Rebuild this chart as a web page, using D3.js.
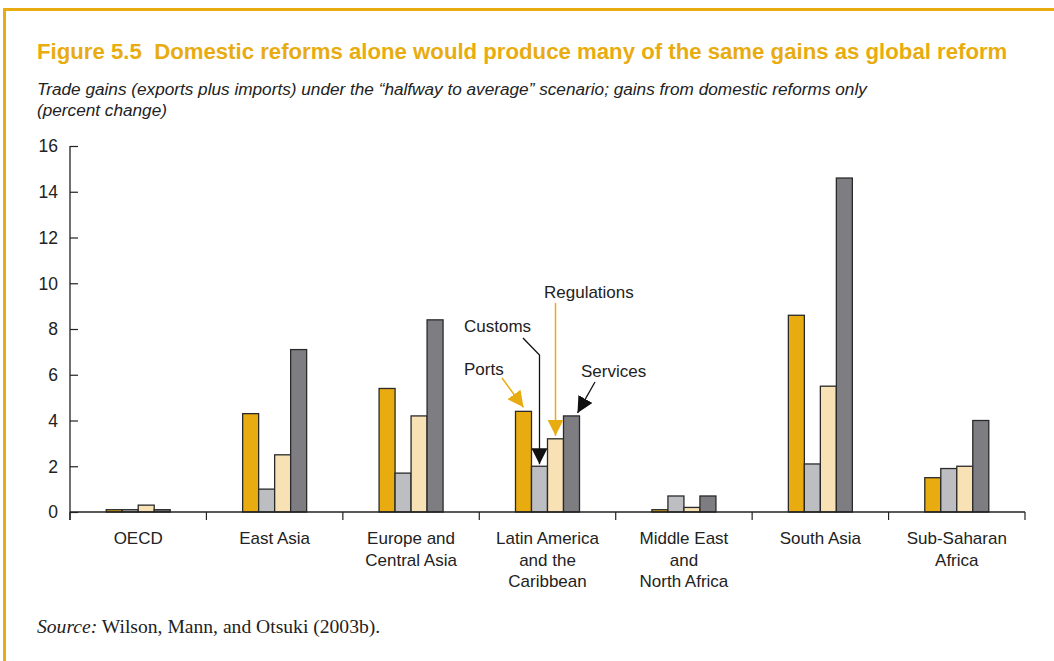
<!DOCTYPE html>
<html><head><meta charset="utf-8">
<script src="https://cdn.jsdelivr.net/npm/d3@7"></script>
<style>
body{margin:0;background:#fff;}
svg{display:block;}
</style></head>
<body>
<svg id="chart" width="1054" height="661"></svg>
<script>
const categories = ["OECD","East Asia","Europe and Central Asia","Latin America and the Caribbean","Middle East and North Africa","South Asia","Sub-Saharan Africa"];
const categoryLines = [["OECD"],["East Asia"],["Europe and","Central Asia"],["Latin America","and the","Caribbean"],["Middle East","and","North Africa"],["South Asia"],["Sub-Saharan","Africa"]];
const seriesNames = ["Ports","Customs","Regulations","Services"];
const ports       = [0.1, 4.3, 5.4, 4.4, 0.1, 8.6, 1.5];
const customs     = [0.1, 1.0, 1.7, 2.0, 0.7, 2.1, 1.9];
const regulations = [0.3, 2.5, 4.2, 3.2, 0.2, 5.5, 2.0];
const services    = [0.1, 7.1, 8.4, 4.2, 0.7, 14.6, 4.0];
const yTicks = [0,2,4,6,8,10,12,14,16];
const colors = ["#E8AC10","#BDBEC1","#F8E1B4","#7E7E82"];

const svg = d3.select("#chart");
const orange = "#E8AC10";
const sans = "Liberation Sans, Arial, sans-serif";

// frame
svg.append("rect").attr("x",3).attr("y",8).attr("width",1051).attr("height",3).attr("fill",orange);
svg.append("rect").attr("x",3).attr("y",8).attr("width",3).attr("height",653).attr("fill",orange);

// title
svg.append("text").attr("x",37).attr("y",59)
  .attr("font-family",sans).attr("font-weight","bold")
  .attr("font-size",22.2).attr("fill",orange)
  .attr("xml:space","preserve")
  .text("Figure 5.5  Domestic reforms alone would produce many of the same gains as global reform");
const sub = svg.append("g").attr("font-family",sans).attr("font-style","italic").attr("font-size",17.2).attr("fill","#222");
sub.append("text").attr("x",37).attr("y",95).text("Trade gains (exports plus imports) under the \u201chalfway to average\u201d scenario; gains from domestic reforms only");
sub.append("text").attr("x",37).attr("y",116).text("(percent change)");

// scales
const x0 = 70, x1 = 1025, yTop = 146, yBot = 512;
const x = d3.scaleBand().domain(categories).range([x0,x1]).padding(0);
const y = d3.scaleLinear().domain([0,16]).range([yBot,yTop]);
const groupW = 64;
const xi = d3.scaleBand().domain(seriesNames).range([0,groupW]);

// bars
const seriesVals = [ports,customs,regulations,services];
const gBars = svg.append("g");
categories.forEach((c,ci)=>{
  seriesNames.forEach((s,si)=>{
    const v = seriesVals[si][ci];
    gBars.append("rect")
      .attr("x", x(c) + (x.bandwidth()-groupW)/2 + xi(s))
      .attr("y", y(v))
      .attr("width", xi.bandwidth())
      .attr("height", y(0)-y(v))
      .attr("fill", colors[si])
      .attr("stroke","#2a2a2a").attr("stroke-width",1.3);
  });
});

// y axis
const yAxis = d3.axisRight(y).tickValues(yTicks).tickSize(8).tickFormat(d3.format("d"));
const gy = svg.append("g").attr("transform",`translate(${x0},0)`).call(yAxis);
gy.select(".domain").remove();
gy.append("line").attr("x1",0).attr("x2",0).attr("y1",yTop).attr("y2",yBot+8).attr("stroke","#222").attr("stroke-width",1.3);
gy.selectAll(".tick line").attr("stroke","#222").attr("stroke-width",1.2);
gy.selectAll(".tick text").attr("x",-12).attr("dy","0.34em").attr("text-anchor","end")
  .attr("font-family",sans).attr("font-size",17.5).attr("fill","#222");

// x axis
const gx = svg.append("g").attr("transform",`translate(0,${yBot})`);
gx.append("line").attr("x1",x0).attr("x2",x1).attr("stroke","#222").attr("stroke-width",1.5);
const bounds = categories.map(c=>x(c)).concat([x1]);
bounds.forEach(b=>{
  gx.append("line").attr("x1",b).attr("x2",b).attr("y1",0).attr("y2",8).attr("stroke","#222").attr("stroke-width",1.2);
});
categories.forEach((c,ci)=>{
  const t = gx.append("text").attr("text-anchor","middle")
    .attr("font-family",sans).attr("font-size",17).attr("fill","#222");
  categoryLines[ci].forEach((ln,li)=>{
    t.append("tspan").attr("x", x(c)+x.bandwidth()/2).attr("y", 32 + li*21.5).text(ln);
  });
});

// annotations
const defs = svg.append("defs");
function marker(id,col){
  defs.append("marker").attr("id",id).attr("viewBox","0 0 10 10").attr("refX",10).attr("refY",5)
    .attr("markerWidth",16).attr("markerHeight",16).attr("markerUnits","userSpaceOnUse").attr("orient","auto")
    .append("path").attr("d","M0,0 L10,5 L0,10 Z").attr("fill",col);
}
marker("arrO",orange); marker("arrK","#111");
const ann = svg.append("g").attr("font-family",sans).attr("font-size",17).attr("fill","#222");
const lac = categories[3];
const bx = s => x(lac) + (x.bandwidth()-groupW)/2 + xi(s) + xi.bandwidth()/2;
ann.append("text").attr("x",544).attr("y",298).text("Regulations");
ann.append("text").attr("x",464).attr("y",332).text("Customs");
ann.append("text").attr("x",464).attr("y",375).text("Ports");
ann.append("text").attr("x",581).attr("y",377).text("Services");
svg.append("path").attr("d",`M502,378 L${bx("Ports")},${y(ports[3])-4}`).attr("stroke",orange).attr("stroke-width",1.5).attr("fill","none").attr("marker-end","url(#arrO)");
svg.append("path").attr("d",`M${bx("Regulations")},303 L${bx("Regulations")},${y(regulations[3])-3}`).attr("stroke",orange).attr("stroke-width",1.5).attr("fill","none").attr("marker-end","url(#arrO)");
svg.append("path").attr("d",`M523,338 L${bx("Customs")},355 L${bx("Customs")},${y(customs[3])-2}`).attr("stroke","#111").attr("stroke-width",1.3).attr("fill","none").attr("marker-end","url(#arrK)");
svg.append("path").attr("d",`M595,382 L${bx("Services")+6},${y(services[3])-3}`).attr("stroke","#111").attr("stroke-width",1.3).attr("fill","none").attr("marker-end","url(#arrK)");

// source
const src = svg.append("text").attr("x",37).attr("y",633).attr("font-family","Liberation Serif, Times New Roman, serif").attr("font-size",19.6).attr("fill","#222");
src.append("tspan").attr("font-style","italic").text("Source:");
src.append("tspan").text(" Wilson, Mann, and Otsuki (2003b).");
</script>
</body></html>
